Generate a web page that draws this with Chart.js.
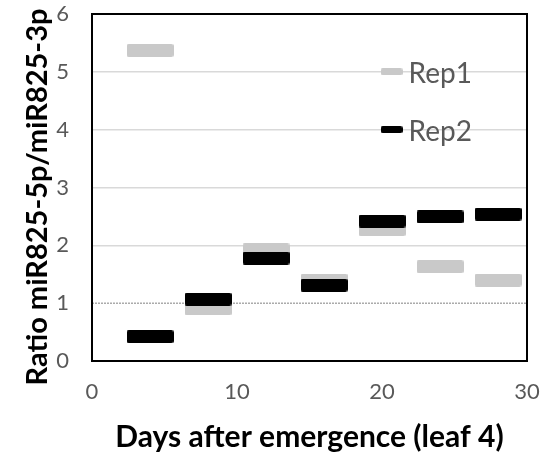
<!DOCTYPE html>
<html>
  <head>
    <title>miR825 ratio</title>
    <script src="https://cdn.jsdelivr.net/npm/chart.js"></script>
    <style>
      body { margin: 0; background: #fff; }
    </style>
  </head>
  <body>
    <canvas id="ratioChart" width="553" height="456"></canvas>

    <script>
      // data
      const days = [4, 8, 12, 16, 20, 24, 28];
      const rep1 = [5.37, 0.9, 1.92, 1.4, 2.27, 1.63, 1.4];
      const rep2 = [0.42, 1.07, 1.78, 1.31, 2.42, 2.49, 2.54];
      const refX = [0, 30];
      const refY = [1, 1];
      const seriesNames = ['Rep1', 'Rep2'];
      const seriesColors = ['#c9c9c9', '#000000'];
      const yTitle = 'Ratio miR825-5p/miR825-3p';

      // dash shaped marker, drawn once and reused as pointStyle
      function dash(color, w, h) {
        const c = document.createElement('canvas');
        c.width = w;
        c.height = h;
        const g = c.getContext('2d');
        g.fillStyle = color;
        g.beginPath();
        g.roundRect(0, 0, w, h, 2);
        g.fill();
        return c;
      }

      const toPoints = (xs, ys) => xs.map((x, i) => ({ x: x, y: ys[i] }));

      // frame around the plot, legend inside it, y title (sits a bit below centre in the original)
      const framePlugin = {
        id: 'frame',
        afterDatasetsDraw(chart) {
          const { ctx, chartArea: a, scales } = chart;
          ctx.save();
          ctx.strokeStyle = '#000';
          ctx.lineWidth = 2;
          ctx.strokeRect(a.left, a.top, a.right - a.left, a.bottom - a.top);

          const rows = [5, 4];
          ctx.font = '28px Lato';
          ctx.textBaseline = 'middle';
          ctx.fillStyle = '#595959';
          for (let i = 0; i < seriesNames.length; i++) {
            const y = scales.y.getPixelForValue(rows[i]);
            const x = scales.x.getPixelForValue(19.9);
            ctx.drawImage(dash(seriesColors[i], 22, 7), x, y - 3.5);
            ctx.fillText(seriesNames[i], x + 28, y + 2);
          }

          ctx.translate(38, 197);
          ctx.rotate(-Math.PI / 2);
          ctx.font = 'bold 29px Lato';
          ctx.textAlign = 'center';
          ctx.fillStyle = '#000';
          ctx.fillText(yTitle, 0, 0);
          ctx.restore();
        },
      };

      const ctx = document.getElementById('ratioChart').getContext('2d');
      const chart = new Chart(ctx, {
        type: 'scatter',
        data: {
          datasets: [
            {
              label: 'ref',
              type: 'line',
              data: toPoints(refX, refY),
              borderColor: '#808080',
              borderWidth: 1,
              borderDash: [2, 1],
              pointRadius: 0,
              order: 2,
            },
            {
              label: seriesNames[0],
              data: toPoints(days, rep1),
              pointStyle: dash(seriesColors[0], 47, 13),
              order: 1,
            },
            {
              label: seriesNames[1],
              data: toPoints(days, rep2),
              pointStyle: dash(seriesColors[1], 47, 13),
              order: 0,
            },
          ],
        },
        options: {
          responsive: false,
          animation: false,
          layout: { padding: { top: 14, right: 26, left: 0, bottom: 0 } },
          plugins: {
            legend: { display: false },
            tooltip: { enabled: false },
          },
          scales: {
            x: {
              type: 'linear',
              min: 0,
              max: 30,
              afterFit: (s) => { s.height = 95; },
              grid: {
                drawOnChartArea: false,
                drawTicks: true,
                tickLength: 18,
                tickColor: 'rgba(0,0,0,0)',
                color: 'rgba(0,0,0,0)',
              },
              border: { display: false },
              ticks: {
                stepSize: 10,
                padding: 0,
                color: '#595959',
                font: { family: 'Lato', size: 22 },
              },
              title: {
                display: true,
                text: 'Days after emergence (leaf 4)',
                color: '#000',
                font: { family: 'Lato', size: 30, weight: 'bold' },
                padding: { top: 0, bottom: 1 },
              },
            },
            y: {
              min: 0,
              max: 6,
              afterFit: (s) => { s.width = 92; },
              grid: {
                drawTicks: true,
                tickLength: 23,
                tickColor: 'rgba(0,0,0,0)',
                lineWidth: 1.5,
                color: (c) =>
                  c.tick && c.tick.value > 1 && c.tick.value < 6
                    ? '#d9d9d9'
                    : 'rgba(0,0,0,0)',
              },
              border: { display: false },
              ticks: {
                stepSize: 1,
                padding: 0,
                color: '#595959',
                font: { family: 'Lato', size: 22 },
              },
            },
          },
        },
        plugins: [framePlugin],
      });
    </script>
  </body>
</html>
